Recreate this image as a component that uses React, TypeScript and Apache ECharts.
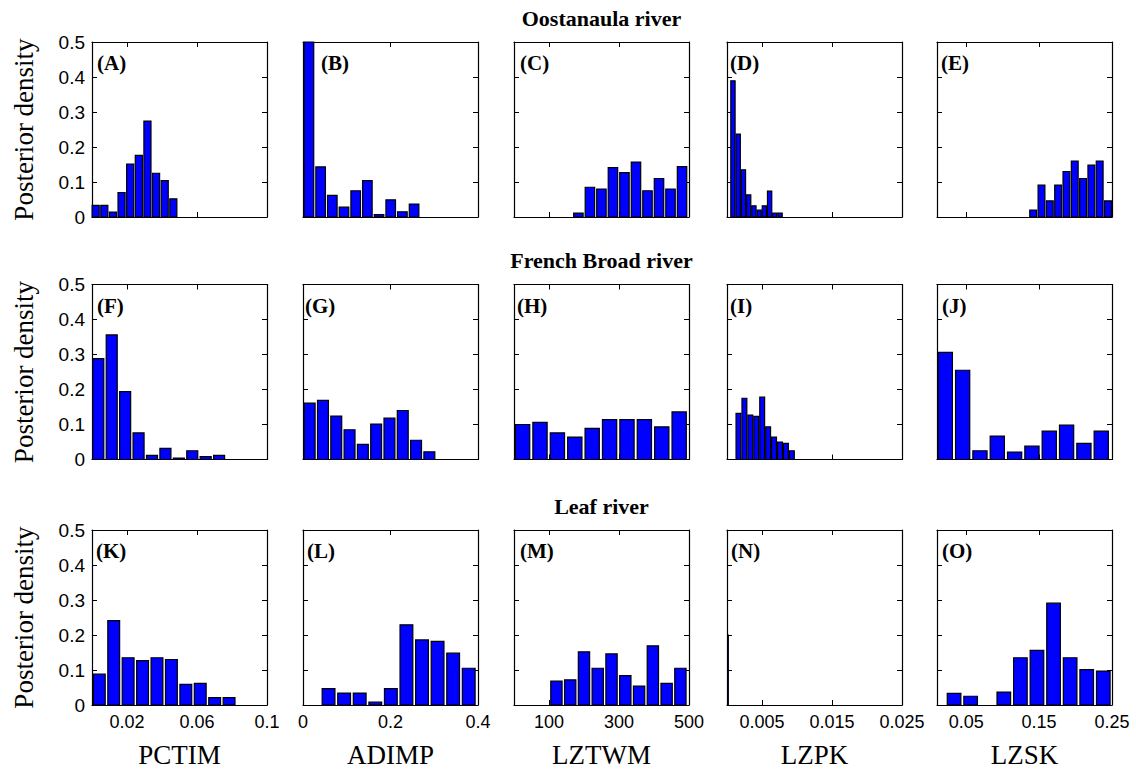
import React, { useEffect, useRef } from 'react';
import * as echarts from 'echarts';

// ---- data ----
const riverTitles = ['Oostanaula river', 'French Broad river', 'Leaf river'];
const paramNames = ['PCTIM', 'ADIMP', 'LZTWM', 'LZPK', 'LZSK'];
const panelLetters = ['A', 'B', 'C', 'D', 'E', 'F', 'G', 'H', 'I', 'J', 'K', 'L', 'M', 'N', 'O'];

const xMin = [0, 0, 0, 0, 0.01];
const xMax = [0.1, 0.4, 500, 0.025, 0.25];
const xTickValues = [
  [0.02, 0.06, 0.1],
  [0, 0.2, 0.4],
  [100, 300, 500],
  [0.005, 0.015, 0.025],
  [0.05, 0.15, 0.25],
];
const yMin = 0;
const yMax = 0.5;
const yStep = 0.1;

// posterior density per histogram bin (10 bins each)
const heightsA = [0.033, 0.033, 0.014, 0.07, 0.151, 0.176, 0.274, 0.125, 0.104, 0.052];
const heightsB = [0.5, 0.143, 0.062, 0.028, 0.075, 0.104, 0.007, 0.049, 0.015, 0.037];
const heightsC = [0.011, 0.085, 0.08, 0.141, 0.127, 0.157, 0.075, 0.11, 0.08, 0.144];
const heightsD = [0.389, 0.237, 0.135, 0.063, 0.032, 0.02, 0.032, 0.074, 0.011, 0.011];
const heightsE = [0.02, 0.091, 0.046, 0.091, 0.13, 0.16, 0.11, 0.148, 0.16, 0.046];
const heightsF = [0.288, 0.356, 0.194, 0.076, 0.012, 0.032, 0.004, 0.025, 0.008, 0.012];
const heightsG = [0.161, 0.169, 0.124, 0.085, 0.043, 0.101, 0.118, 0.14, 0.055, 0.022];
const heightsH = [0.1, 0.106, 0.076, 0.064, 0.089, 0.114, 0.114, 0.114, 0.093, 0.136];
const heightsI = [0.132, 0.175, 0.127, 0.123, 0.178, 0.093, 0.064, 0.05, 0.046, 0.025];
const heightsJ = [0.306, 0.255, 0.025, 0.067, 0.021, 0.038, 0.081, 0.098, 0.046, 0.081];
const heightsK = [0.088, 0.241, 0.135, 0.127, 0.135, 0.13, 0.059, 0.062, 0.021, 0.021];
const heightsL = [0.047, 0.034, 0.034, 0.008, 0.047, 0.229, 0.186, 0.182, 0.148, 0.105];
const heightsM = [0.068, 0.072, 0.152, 0.105, 0.146, 0.084, 0.054, 0.169, 0.062, 0.105];
const heightsN = [0.2];
const heightsO = [0.033, 0.025, 0, 0.037, 0.135, 0.156, 0.291, 0.135, 0.101, 0.097];

// centre of the first bin and bin width for each panel
const binStart = [0.0021, 0.0136, 184, 0.00085, 0.1419, 0.0036, 0.0152, 24.6, 0.00164, 0.0214, 0.00417, 0.0584, 121.2, 0.00012, 0.0334];
const binStep = [0.00493, 0.0267, 32.9, 0.000748, 0.0114, 0.00767, 0.0304, 49.7, 0.000847, 0.02376, 0.00824, 0.0356, 39.36, 0.00001, 0.02274];

const allHeights = [heightsA, heightsB, heightsC, heightsD, heightsE, heightsF, heightsG, heightsH, heightsI, heightsJ, heightsK, heightsL, heightsM, heightsN, heightsO];

// ---- layout ----
const COL_LEFT = [92, 303, 514, 727, 937];
const ROW_TOP = [42, 284.5, 530];
const PW = 175;
const PH = 175;
const BAR_FRAC = 0.82;
const LETTER_DX = [5, 18, 6, 3, 4, 5, 2, 3, 3, 5, 4, 4, 6, 4, 5];
const SERIF = "'Liberation Serif', 'Times New Roman', serif";
const SANS = "'Liberation Sans', Arial, sans-serif";

function buildOption() {
  const grids: any[] = [];
  const xAxes: any[] = [];
  const yAxes: any[] = [];
  const series: any[] = [];
  const graphics: any[] = [];
  const axisLine = { show: true, onZero: false, lineStyle: { color: '#000', width: 1.2 } };
  for (let r = 0; r < 3; r++) {
    for (let c = 0; c < 5; c++) {
      const p = r * 5 + c;
      grids.push({ left: COL_LEFT[c], top: ROW_TOP[r], width: PW, height: PH, outerBoundsMode: 'none' });
      const xTick = { show: true, inside: true, length: 5, customValues: xTickValues[c], lineStyle: { color: '#000', width: 1 } };
      xAxes.push({
        type: 'value', gridIndex: p, position: 'bottom', min: xMin[c], max: xMax[c],
        axisLine, axisTick: xTick, splitLine: { show: false },
        axisLabel: r === 2
          ? { show: true, customValues: xTickValues[c], fontSize: 18, color: '#000', fontFamily: SANS, margin: 8, formatter: (v: number) => String(v) }
          : { show: false },
        name: r === 2 ? paramNames[c] : '',
        nameLocation: 'middle', nameGap: 36,
        nameTextStyle: { fontFamily: SERIF, fontSize: 27, color: '#000' },
      });
      xAxes.push({
        type: 'value', gridIndex: p, position: 'top', min: xMin[c], max: xMax[c],
        axisLine, axisTick: xTick, splitLine: { show: false }, axisLabel: { show: false },
      });
      const yTick = { show: true, inside: true, length: 5, lineStyle: { color: '#000', width: 1 } };
      yAxes.push({
        type: 'value', gridIndex: p, position: 'left', min: yMin, max: yMax, interval: yStep,
        axisLine, axisTick: yTick, splitLine: { show: false },
        axisLabel: c === 0
          ? { show: true, fontSize: 19, color: '#000', fontFamily: SANS, margin: 7, formatter: (v: number) => String(Math.round(v * 10) / 10) }
          : { show: false },
      });
      yAxes.push({
        type: 'value', gridIndex: p, position: 'right', min: yMin, max: yMax, interval: yStep,
        axisLine, axisTick: yTick, splitLine: { show: false }, axisLabel: { show: false },
      });
      const heights = allHeights[p];
      const half = (binStep[p] * BAR_FRAC) / 2;
      const data = heights.map((h, i) => [binStart[p] + i * binStep[p], h]);
      series.push({
        type: 'custom', xAxisIndex: 2 * p, yAxisIndex: 2 * p, data, silent: true, z: 2,
        encode: { x: 0, y: 1 },
        renderItem: (_params: any, api: any) => {
          const x = api.value(0) as number;
          const y = api.value(1) as number;
          if (y <= 0) return null;
          const tl = api.coord([x - half, y]);
          const br = api.coord([x + half, 0]);
          return {
            type: 'rect',
            shape: { x: tl[0], y: tl[1], width: Math.max(br[0] - tl[0], 0.5), height: br[1] - tl[1] },
            style: { fill: '#0000ff', stroke: '#000', lineWidth: 1.2 },
          };
        },
      });
      graphics.push({
        type: 'text', x: COL_LEFT[c] + LETTER_DX[p], y: ROW_TOP[r] + 21, z: 10,
        style: { text: '(' + panelLetters[p] + ')', font: `bold 21px ${SERIF}`, fill: '#000', verticalAlign: 'middle', align: 'left' },
      });
    }
    graphics.push({
      type: 'text', x: COL_LEFT[2] + PW / 2, y: ROW_TOP[r] - 24,
      style: { text: riverTitles[r], font: `bold 22px ${SERIF}`, fill: '#000', align: 'center', verticalAlign: 'middle' },
    });
    graphics.push({
      type: 'text', x: 24, y: ROW_TOP[r] + PH / 2, rotation: Math.PI / 2,
      style: { text: 'Posterior density', font: `27px ${SERIF}`, fill: '#000', align: 'center', verticalAlign: 'middle' },
    });
  }
  return {
    animation: false,
    backgroundColor: '#fff',
    grid: grids,
    xAxis: xAxes,
    yAxis: yAxes,
    series,
    graphic: graphics,
  };
}

export default function App() {
  const ref = useRef<HTMLDivElement>(null);
  useEffect(() => {
    if (!ref.current) return;
    const chart = echarts.init(ref.current, undefined, { renderer: 'svg' });
    chart.setOption(buildOption() as any);
    return () => chart.dispose();
  }, []);
  return <div ref={ref} style={{ position: 'absolute', left: 0, top: 0, width: 1136, height: 769, background: '#fff' }} />;
}
